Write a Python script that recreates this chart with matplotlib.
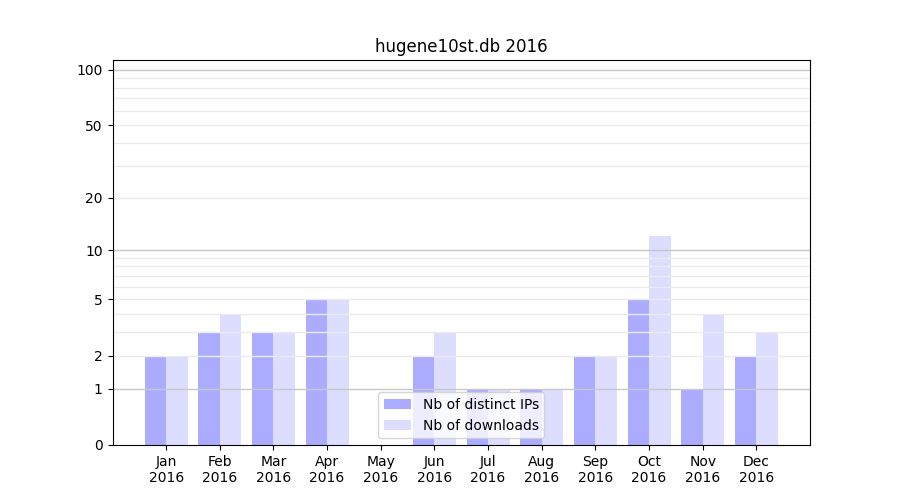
import numpy as np
import matplotlib
matplotlib.use("Agg")
import matplotlib.pyplot as plt
from matplotlib.ticker import NullLocator

months = ["Jan", "Feb", "Mar", "Apr", "May", "Jun",
          "Jul", "Aug", "Sep", "Oct", "Nov", "Dec"]
year = "2016"
distinct_ips = [2, 3, 3, 5, 0, 2, 1, 1, 2, 5, 1, 2]
downloads = [2, 4, 3, 5, 0, 3, 1, 1, 2, 12, 4, 3]
yticks = [0, 1, 2, 5, 10, 20, 50, 100]
major_grid = [1, 10, 100]
minor_grid = [2, 3, 4, 5, 6, 7, 8, 9, 20, 30, 40, 50, 60, 70, 80, 90]

fig, ax = plt.subplots(figsize=(9, 5), dpi=100)

ax.set_yscale("function", functions=(lambda y: np.log10(1 + np.maximum(y, 0)),
                                      lambda y: 10 ** y - 1))

x = np.arange(len(months))
w = 0.4
ax.bar(x - w / 2, distinct_ips, width=w, color="blue", alpha=0.33,
       label="Nb of distinct IPs")
ax.bar(x + w / 2, downloads, width=w, color="blue", alpha=0.135,
       label="Nb of downloads")

ax.set_ylim(0, 113)
ax.set_xlim(-1, 12)

ax.set_yticks(yticks)
ax.set_yticklabels([str(t) for t in yticks])
ax.yaxis.set_minor_locator(NullLocator())
# grid lines sit over the bars but under the spines
for t in major_grid:
    ax.axhline(t, color="#c8c8c8", lw=1, zorder=2)
for t in minor_grid:
    ax.axhline(t, color="#ebebeb", lw=1, zorder=2)

ax.set_xticks(x)
ax.set_xticklabels([f"{m}\n{year}" for m in months])

ax.set_title("hugene10st.db 2016")
ax.legend(loc="lower center")

fig.savefig("out.png", dpi=100)
